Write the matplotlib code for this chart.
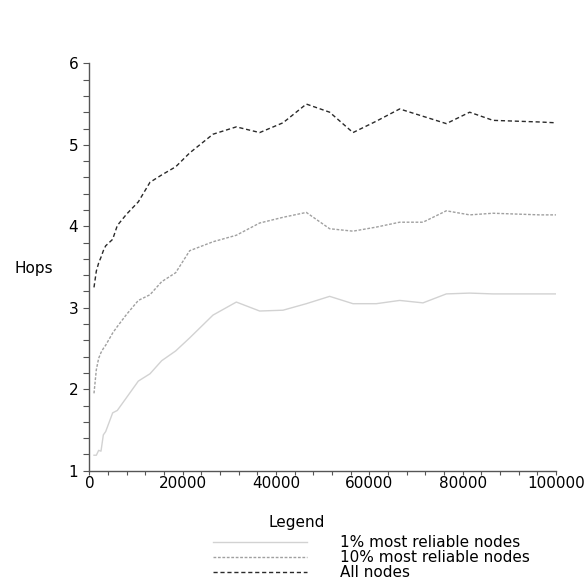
import numpy as np
import matplotlib
matplotlib.use('Agg')
import matplotlib.pyplot as plt
from matplotlib.ticker import MultipleLocator

# Data
nodes = [1000, 1500, 2000, 2500, 3000, 3500, 5000, 6000, 8000, 10500,
         13000, 15500, 18500, 21500, 26500, 31500, 36500, 41500, 46500, 51500,
         56500, 61500, 66500, 71500, 76500, 81500, 86500, 91500, 96500, 100000]

hops_1pct = [1.19, 1.19, 1.25, 1.24, 1.44, 1.48, 1.71, 1.74, 1.90, 2.10,
             2.19, 2.35, 2.47, 2.63, 2.91, 3.07, 2.96, 2.97, 3.05, 3.14,
             3.05, 3.05, 3.09, 3.06, 3.17, 3.18, 3.17, 3.17, 3.17, 3.17]

hops_10pct = [1.95, 2.24, 2.38, 2.45, 2.50, 2.54, 2.69, 2.77, 2.92, 3.09,
              3.16, 3.32, 3.43, 3.70, 3.81, 3.89, 4.04, 4.11, 4.17, 3.97,
              3.94, 3.99, 4.05, 4.05, 4.19, 4.14, 4.16, 4.15, 4.14, 4.14]

hops_all = [3.25, 3.45, 3.55, 3.62, 3.70, 3.76, 3.84, 4.01, 4.15, 4.30,
            4.54, 4.63, 4.73, 4.90, 5.13, 5.22, 5.15, 5.27, 5.50, 5.40,
            5.15, 5.29, 5.44, 5.35, 5.26, 5.40, 5.30, 5.29, 5.28, 5.27]

labels = ['1% most reliable nodes', '10% most reliable nodes', 'All nodes']

fig = plt.figure(figsize=(5.85, 5.82), dpi=100)
ax = fig.add_axes([0.1527, 0.1912, 0.7977, 0.7000])

ax.plot(nodes, hops_1pct, color='#d2d2d2', lw=1.0, label=labels[0])
ax.plot(nodes, hops_10pct, color='#a0a0a0', lw=1.0, dashes=(2, 1.2), label=labels[1])
ax.plot(nodes, hops_all, color='#2a2a2a', lw=1.0, dashes=(3, 2), label=labels[2])

ax.set_xlim(0, 100000)
ax.set_ylim(1, 6)

for s in ['top', 'right']:
    ax.spines[s].set_visible(False)
for s in ['left', 'bottom']:
    ax.spines[s].set_color('#555555')
    ax.spines[s].set_linewidth(1.0)

ax.xaxis.set_major_locator(MultipleLocator(20000))
ax.xaxis.set_minor_locator(MultipleLocator(4000))
ax.yaxis.set_major_locator(MultipleLocator(1))
ax.yaxis.set_minor_locator(MultipleLocator(0.2))

ax.tick_params(axis='x', which='both', direction='out', length=3, width=0.8,
               color='#555555', pad=0.5, labelsize=11)
ax.tick_params(axis='y', which='both', direction='out', length=4, width=0.8,
               color='#555555', pad=4, labelsize=11)

ax.set_ylabel('Hops', rotation=0, fontsize=11, ha='center', va='center')
ax.yaxis.set_label_coords(-0.118, 0.4975)

# Legend
fig.text(0.508, 0.103, 'Legend', fontsize=11, ha='center', va='center')
fig.legend(loc='upper left', bbox_to_anchor=(213 / 585, 1 - 535 / 582),
           frameon=False, fontsize=11, borderpad=0, borderaxespad=0,
           handlelength=6.15, handletextpad=2.15, labelspacing=0)

fig.savefig('out.png', dpi=100)
